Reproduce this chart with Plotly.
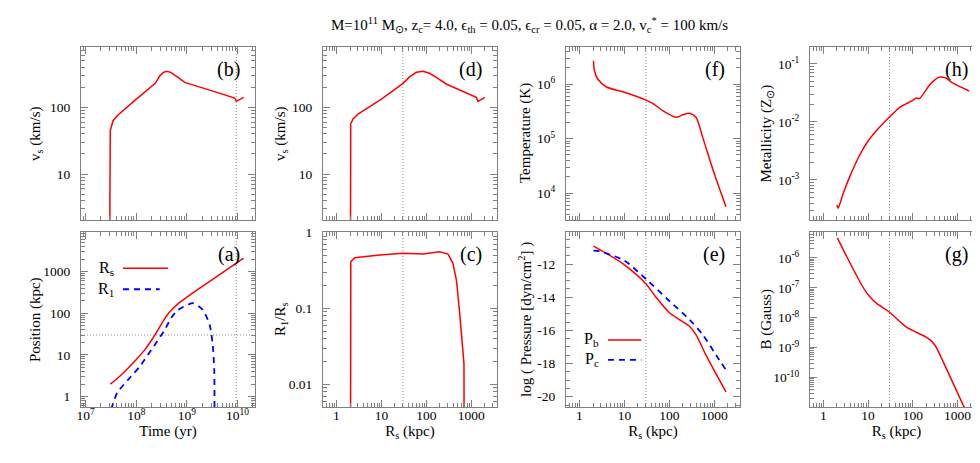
import plotly.graph_objects as go
from plotly.subplots import make_subplots

# ---------------- values ----------------
# (a) shock radius R_s and contact radius R_1 vs time
time_rs = [3.06e7, 4.6e7, 6.85e7, 1.0e8, 1.466e8, 2.0e8, 2.69e8, 3.4e8, 4.23e8, 5.3e8, 6.67e8,
           1.0e9, 1.426e9, 3.03e9, 6.49e9, 1.324e10]
pos_rs = [1.99, 3.0, 4.81, 7.8, 13.2, 22.5, 39.9, 64.6, 95.5, 130, 168, 243, 331, 616, 1160, 2094]
time_r1 = [3.2e7, 4.22e7, 6.85e7, 1.167e8, 2.31e8, 3.64e8, 4.9e8, 6.67e8, 1.318e9,
           2.08e9, 2.82e9, 3.22e9, 3.47e9, 3.51e9]
pos_r1 = [0.5, 1.25, 2.51, 5.25, 17.4, 39.8, 77.6, 120, 174, 120, 52.5, 19.1, 4.4, 0.3]

# (b) shock velocity vs time
time_vs = [2.98e7, 2.99e7, 3.06e7, 3.47e7, 4.35e7, 1.0e8, 2.37e8, 2.90e8, 3.37e8, 3.92e8,
           4.79e8, 6.67e8, 9.06e8, 3.03e9, 8.81e9, 9.46e9, 1.327e10]
vs_time = [1, 31.6, 44.7, 63, 76.7, 133, 229, 295, 331, 347, 335, 282, 237, 178, 138, 123, 141]

# (d) shock velocity vs R_s
rs_vs = [2.05, 2.05, 2.07, 2.34, 3.02, 10, 30.2, 42.7, 60, 83.9, 117, 166, 275, 1288, 1403, 1995]
vs_rs = [1, 31.6, 56.2, 66.8, 79.4, 133, 229, 288, 335, 347, 324, 282, 224, 141, 123, 141]

# (c) R_1 / R_s vs R_s
rs_ratio = [2.05, 2.05, 2.08, 2.55, 9.16, 30.2, 83.9, 197, 302, 389, 465, 550, 646, 685, 692]
ratio = [0.001, 0.25, 0.413, 0.466, 0.506, 0.533, 0.521, 0.56, 0.521, 0.394, 0.237,
         0.0859, 0.0229, 0.0186, 0.001]

# (f) temperature vs R_s
rs_temp = [2.05, 2.15, 2.55, 3.90, 10, 30.2, 42.6, 71, 140, 198, 278, 389, 550, 1000, 1811]
temp = [2.68e6, 1.754e6, 1.236e6, 8.93e5, 7.05e5, 5.08e5, 4.43e5, 3.24e5, 2.45e5, 2.73e5,
        2.90e5, 2.45e5, 1.05e5, 2.23e4, 5610]

# (e) log pressure vs R_s
rs_pb = [2.05, 3.90, 10, 30.2, 50.1, 100, 166, 278, 389, 646, 1811]
p_b = [-10.92, -11.35, -12.05, -13.2, -14.0, -14.94, -15.35, -15.75, -16.26, -17.48, -19.71]
rs_pc = [2.05, 2.78, 10, 30.2, 100, 278, 550, 1086, 1811]
p_c = [-11.19, -11.23, -11.8, -12.91, -14.23, -15.35, -16.26, -17.48, -18.39]

# (h) metallicity vs R_s
rs_metal = [2.0, 2.14, 2.78, 3.89, 6.50, 10, 16.7, 29.3, 50.1, 100, 119, 141, 234, 302,
            389, 550, 776, 1811]
metal = [3.72e-4, 3.24e-4, 5.90e-4, 1.14e-3, 2.69e-3, 4.68e-3, 7.59e-3, 0.01186, 0.01762,
         0.0235, 0.02576, 0.0251, 0.0426, 0.0518, 0.059, 0.0569, 0.0468, 0.034]

# (g) magnetic field vs R_s
rs_b = [2.05, 3.30, 6.50, 8.40, 10.9, 15.8, 29.3, 71, 198, 251, 316, 398, 465, 1403, 1811]
b_field = [4.74e-6, 1.14e-6, 1.63e-7, 8.5e-8, 5.07e-8, 2.95e-8, 1.58e-8, 4.91e-9, 2.25e-9,
           1.74e-9, 1.175e-9, 6.03e-10, 3.65e-10, 1.02e-11, 4.47e-12]

t_mark = 9.46e9     # dotted line in (a), (b)
r_mark = 30         # dotted line at R_s = 30 kpc

# ---------------- styling ----------------
FONT = "Liberation Serif, Times New Roman, Times, serif"
FRAME = "#808080"
RED = "#ff0000"
BLUE = "#0000ff"
W, H = 980, 463

col_px = [(73, 247), (315, 489), (558, 732), (802, 975)]
row_px = [(39, 212), (224, 399)]


def sup10(p):
    return f"10<sup>{p}</sup>"


def log_minor(lo, hi):
    return [k * 10.0 ** d for d in range(lo, hi) for k in range(2, 10)]


fig = make_subplots(rows=2, cols=4)

red_line = dict(color=RED, width=1.5)
red_smooth = dict(red_line, shape="spline", smoothing=0.8)
blue_dash = dict(color=BLUE, width=1.8, dash="6px,5px")

# top row: (b) (d) (f) (h)
fig.add_trace(go.Scatter(x=time_vs, y=vs_time, mode="lines", line=red_line), 1, 1)
fig.add_trace(go.Scatter(x=rs_vs, y=vs_rs, mode="lines", line=red_line), 1, 2)
fig.add_trace(go.Scatter(x=rs_temp, y=temp, mode="lines", line=red_smooth), 1, 3)
fig.add_trace(go.Scatter(x=rs_metal, y=metal, mode="lines", line=dict(red_line, shape="spline", smoothing=0.5)), 1, 4)
# bottom row: (a) (c) (e) (g)
fig.add_trace(go.Scatter(x=time_rs, y=pos_rs, mode="lines", line=red_smooth), 2, 1)
fig.add_trace(go.Scatter(x=time_r1, y=pos_r1, mode="lines", line=dict(blue_dash, shape="spline", smoothing=0.6)), 2, 1)
fig.add_trace(go.Scatter(x=rs_ratio, y=ratio, mode="lines", line=red_line), 2, 2)
fig.add_trace(go.Scatter(x=rs_pb, y=p_b, mode="lines", line=red_smooth), 2, 3)
fig.add_trace(go.Scatter(x=rs_pc, y=p_c, mode="lines", line=dict(blue_dash, shape="spline", smoothing=0.8)), 2, 3)
fig.add_trace(go.Scatter(x=rs_b, y=b_field, mode="lines", line=red_smooth), 2, 4)

axis_common = dict(
    showline=True, linecolor=FRAME, linewidth=1, mirror="ticks",
    ticks="inside", ticklen=7, tickwidth=1, tickcolor=FRAME,
    showgrid=False, zeroline=False, automargin=False,
    tickfont=dict(family=FONT, size=13.5, color="black"),
)
minor_common = dict(ticks="inside", ticklen=4, tickwidth=1, tickcolor=FRAME, showgrid=False)

time_x = dict(type="log", range=[6.907, 10.346], tickmode="array",
              tickvals=[1e7, 1e8, 1e9, 1e10], ticktext=[sup10(p) for p in (7, 8, 9, 10)],
              minor=dict(minor_common, tickmode="array", tickvals=log_minor(6, 11)))
rs_x = dict(type="log", range=[-0.3, 3.57], tickmode="array",
            tickvals=[1, 10, 100, 1000], ticktext=["1", "10", "100", "1000"],
            minor=dict(minor_common, tickmode="array", tickvals=log_minor(-1, 4)))

panels = {
    (1, 1): dict(x=time_x, y=dict(type="log", range=[0.31, 2.905], tickvals=[10, 100], ticktext=["10", "100"],
                                   minor=log_minor(0, 3)),
                 ytitle="v<sub>s</sub> (km/s)", tag="(b)"),
    (1, 2): dict(x=rs_x, y=dict(type="log", range=[0.31, 2.905], tickvals=[10, 100], ticktext=["10", "100"],
                                 minor=log_minor(0, 3)),
                 ytitle="v<sub>s</sub> (km/s)", tag="(d)"),
    (1, 3): dict(x=rs_x, y=dict(type="log", range=[3.505, 6.68], tickvals=[1e4, 1e5, 1e6],
                                 ticktext=[sup10(p) for p in (4, 5, 6)], minor=log_minor(3, 7)),
                 ytitle="Temperature (K)", tag="(f)"),
    (1, 4): dict(x=rs_x, y=dict(type="log", range=[-3.69, -0.71], tickvals=[1e-3, 1e-2, 1e-1],
                                 ticktext=[sup10(p) for p in (-3, -2, -1)], minor=log_minor(-4, 0)),
                 ytitle="Metallicity (Z<sub>⊙</sub>)", tag="(h)"),
    (2, 1): dict(x=time_x, y=dict(type="log", range=[-0.25, 3.95], tickvals=[1, 10, 100, 1000],
                                   ticktext=["1", "10", "100", "1000"], minor=log_minor(-1, 4)),
                 ytitle="Position (kpc)", xtitle="Time (yr)", tag="(a)"),
    (2, 2): dict(x=rs_x, y=dict(type="log", range=[-2.30, 0.008], tickvals=[0.01, 0.1, 1],
                                 ticktext=["0.01", "0.1", "1"], minor=log_minor(-3, 1)),
                 ytitle="R<sub>1</sub>/R<sub>s</sub>", xtitle="R<sub>s</sub> (kpc)", tag="(c)"),
    (2, 3): dict(x=rs_x, y=dict(type="linear", range=[-20.62, -10.07], tickvals=[-20, -18, -16, -14, -12],
                                 ticktext=["-20", "-18", "-16", "-14", "-12"], minor=None),
                 ytitle="log ( Pressure [dyn/cm<sup>2</sup>] )", xtitle="R<sub>s</sub> (kpc)", tag="(e)"),
    (2, 4): dict(x=rs_x, y=dict(type="log", range=[-10.99, -5.13], tickvals=[1e-10, 1e-9, 1e-8, 1e-7, 1e-6],
                                 ticktext=[sup10(p) for p in (-10, -9, -8, -7, -6)], minor=log_minor(-11, -5)),
                 ytitle="B (Gauss)", xtitle="R<sub>s</sub> (kpc)", tag="(g)"),
}

for (r, c), p in panels.items():
    n = (r - 1) * 4 + c
    sfx = "" if n == 1 else str(n)
    x0, x1 = col_px[c - 1]
    y0, y1 = row_px[r - 1]
    xd = [x0 / W, x1 / W]
    yd = [1 - y1 / H, 1 - y0 / H]

    xa = dict(axis_common, domain=xd, ticklabelstandoff=-4, **p["x"])
    if r == 1:
        xa["showticklabels"] = False
    else:
        xa["title"] = dict(text=p["xtitle"], font=dict(family=FONT, size=15, color="black"), standoff=3)
    yspec = p["y"]
    ya = dict(axis_common, domain=yd, ticklabelstandoff=7, type=yspec["type"], range=yspec["range"],
              tickmode="array", tickvals=yspec["tickvals"], ticktext=yspec["ticktext"])
    if yspec["minor"] is None:
        ya["minor"] = dict(minor_common, dtick=0.5, tick0=0)
    else:
        ya["minor"] = dict(minor_common, tickmode="array", tickvals=yspec["minor"])
    fig.update_layout({f"xaxis{sfx}": xa, f"yaxis{sfx}": ya})

    # y-axis title, placed like the gnuplot ylabel
    ytitle_x = [27.5, 272.5, 517.5, 758][c - 1]
    fig.add_annotation(text=p["ytitle"], xref="paper", yref="paper", x=ytitle_x / W,
                       y=1 - (y0 + y1) / 2 / H, textangle=-90, showarrow=False,
                       xanchor="center", yanchor="middle",
                       font=dict(family=FONT, size=15, color="black"))
    # panel tag
    fig.add_annotation(text=p["tag"], xref=f"x{sfx} domain", yref=f"y{sfx} domain", x=0.925, y=0.87,
                       xanchor="right", yanchor="middle", showarrow=False,
                       font=dict(family=FONT, size=20, color="black"))

    # dotted reference lines
    dotted = dict(color="#8c8c8c", width=1, dash="1px,2px")
    xmark = t_mark if c == 1 else r_mark
    fig.add_shape(type="line", xref=f"x{sfx}", yref=f"y{sfx} domain", x0=xmark, x1=xmark, y0=0, y1=1,
                  line=dotted, layer="below")
    if (r, c) == (2, 1):
        fig.add_shape(type="line", xref=f"x{sfx} domain", yref=f"y{sfx}", x0=0, x1=1, y0=r_mark, y1=r_mark,
                      line=dotted, layer="below")

# key for (a) and (e): label on the left, line sample on the right
keys = [
    ("5", "R<sub>s</sub>", 0.793, red_line, 0.50),
    ("5", "R<sub>1</sub>", 0.673, blue_dash, 0.452),
    ("7", "P<sub>b</sub>", 0.383, red_line, 0.433),
    ("7", "P<sub>c</sub>", 0.269, blue_dash, 0.433),
]
for sfx, label, ky, style, kx1 in keys:
    fig.add_annotation(text=label, xref=f"x{sfx} domain", yref=f"y{sfx} domain", x=0.20, y=ky,
                       xanchor="right", yanchor="middle", showarrow=False,
                       font=dict(family=FONT, size=16, color="black"))
    fig.add_shape(type="line", xref=f"x{sfx} domain", yref=f"y{sfx} domain", x0=0.241, x1=kx1,
                  y0=ky, y1=ky, line=style)

fig.add_annotation(
    text="M=10<sup>11</sup> M<sub>⊙</sub>, z<sub>c</sub>= 4.0, ϵ<sub>th</sub> = 0.05, "
         "ϵ<sub>cr</sub> = 0.05, α = 2.0, v<sub>c</sub><sup>*</sup> = 100 km/s",
    xref="paper", yref="paper", x=521.5 / W, y=1 - 17 / H, xanchor="center", yanchor="middle",
    showarrow=False, font=dict(family=FONT, size=15, color="black"))

fig.update_layout(
    template="none", width=W, height=H, showlegend=False,
    margin=dict(l=0, r=0, t=0, b=0),
    paper_bgcolor="white", plot_bgcolor="white",
    font=dict(family=FONT, size=14, color="black"),
)

fig.write_html("out.html")
